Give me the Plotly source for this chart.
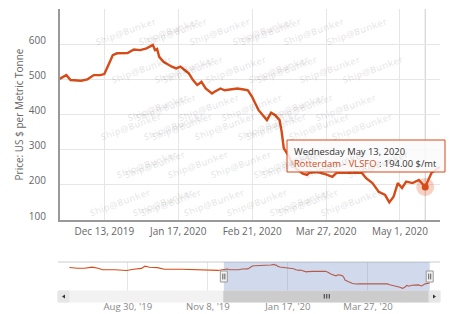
import plotly.graph_objects as go
import pandas as pd

# ---------------- data ----------------
series_name = "Rotterdam - VLSFO"
dates = [
    "2019-07-10", "2019-07-17", "2019-07-23", "2019-07-30", "2019-08-04", "2019-08-08",
    "2019-08-19", "2019-08-29", "2019-09-04", "2019-09-11", "2019-09-14", "2019-09-18",
    "2019-09-25", "2019-10-01", "2019-10-16", "2019-10-27", "2019-11-08", "2019-11-17",
    "2019-11-22", "2019-11-25", "2019-11-27", "2019-12-02", "2019-12-05", "2019-12-08",
    "2019-12-11", "2019-12-13", "2019-12-16", "2019-12-17", "2019-12-19", "2019-12-24",
    "2019-12-27", "2019-12-30", "2020-01-02", "2020-01-05", "2020-01-06", "2020-01-07",
    "2020-01-08", "2020-01-10", "2020-01-14", "2020-01-16", "2020-01-18", "2020-01-19",
    "2020-01-22", "2020-01-24", "2020-01-26", "2020-01-27", "2020-01-28", "2020-01-30",
    "2020-01-31", "2020-02-02", "2020-02-03", "2020-02-06", "2020-02-08", "2020-02-11",
    "2020-02-14", "2020-02-17", "2020-02-19", "2020-02-21", "2020-02-24", "2020-02-28",
    "2020-03-01", "2020-03-03", "2020-03-05", "2020-03-06", "2020-03-07", "2020-03-09",
    "2020-03-11", "2020-03-13", "2020-03-16", "2020-03-18", "2020-03-19", "2020-03-23",
    "2020-03-27", "2020-03-30", "2020-04-01", "2020-04-07", "2020-04-13", "2020-04-15",
    "2020-04-18", "2020-04-21", "2020-04-24", "2020-04-26", "2020-04-28", "2020-04-30",
    "2020-05-02", "2020-05-04", "2020-05-07", "2020-05-10", "2020-05-13", "2020-05-16",
    "2020-05-20",
]
prices = [
    540, 526, 528, 548, 526, 498,
    500, 485, 507, 524, 565, 545,
    538, 507, 507, 500, 500, 486,
    502, 512, 498, 496, 500, 512,
    512, 515, 555, 569, 574, 575,
    585, 583, 588, 598, 583, 586,
    564, 550, 536, 531, 536, 531,
    517, 498, 484, 488, 493, 474,
    469, 460, 464, 474, 469, 471,
    474, 471, 469, 450, 413, 384,
    405, 398, 384, 351, 304, 285,
    262, 245, 232, 228, 234, 236,
    230, 223, 234, 234, 234, 219,
    205, 180, 171, 150, 166, 205,
    191, 209, 205, 214, 194, 234,
    251,
]

main_range = ["2019-11-22", "2020-05-20"]
nav_range = ["2019-06-30", "2020-05-29"]
main_tickvals = ["2019-12-13", "2020-01-17", "2020-02-21", "2020-03-27", "2020-05-01"]
main_ticktext = ["Dec 13, 2019", "Jan 17, 2020", "Feb 21, 2020", "Mar 27, 2020", "May 1, 2020"]
nav_tickvals = ["2019-08-30", "2019-11-08", "2020-01-17", "2020-03-27"]
nav_ticktext = ["Aug 30, '19", "Nov 8, '19", "Jan 17, '20", "Mar 27, '20"]
y_tickvals = [100, 200, 300, 400, 500, 600, 700]
y_ticktext = ["100", "200", "300", "400", "500", "600", ""]
hover_date = "2020-05-13"

# ---------------- layout helpers ----------------
W, H = 455, 314
FONT = "Open Sans"
C = "#d64b18"


def px(x):
    return x / W


def py(y):
    return 1 - y / H


hi = dates.index(hover_date)
hover_ts = pd.Timestamp(hover_date)
header = hover_ts.strftime("%A %B ") + str(hover_ts.day) + hover_ts.strftime(", %Y")
body = (f"<span style='color:{C}'>{series_name}</span>"
        f"<span style='color:#333333'> : {prices[hi]:.2f} $/mt</span>")
mid_sel = pd.Timestamp(main_range[0]) + (pd.Timestamp(main_range[1]) - pd.Timestamp(main_range[0])) / 2

fig = go.Figure()
fig.add_trace(go.Scatter(x=dates, y=prices, mode="lines", line=dict(color=C, width=2.4),
                         xaxis="x", yaxis="y", hoverinfo="skip"))
fig.add_trace(go.Scatter(x=dates, y=prices, mode="lines", line=dict(color=C, width=1.1),
                         xaxis="x2", yaxis="y2", hoverinfo="skip"))
fig.add_trace(go.Scatter(x=[dates[hi]], y=[prices[hi]], mode="markers",
                         marker=dict(size=18, color="rgba(214,75,24,0.25)"),
                         xaxis="x", yaxis="y", hoverinfo="skip"))
fig.add_trace(go.Scatter(x=[dates[hi]], y=[prices[hi]], mode="markers",
                         marker=dict(size=7, color=C),
                         xaxis="x", yaxis="y", hoverinfo="skip"))

shapes = []
# crosshair
shapes.append(dict(type="line", xref="x", yref="y domain", x0=hover_date, x1=hover_date,
                   y0=0, y1=1, line=dict(color="#cccccc", width=1), layer="below"))
# navigator outline top
shapes.append(dict(type="line", xref="x2 domain", yref="y2 domain", x0=0, x1=1, y0=1, y1=1,
                   line=dict(color="#cccccc", width=1)))
# navigator mask
shapes.append(dict(type="rect", xref="x2", yref="y2 domain", x0=main_range[0], x1=main_range[1],
                   y0=0, y1=1, fillcolor="rgba(102,133,194,0.3)", line=dict(width=0), layer="above"))
# handles
for d in main_range:
    shapes.append(dict(type="rect", xref="x2", yref="y2 domain", xsizemode="pixel", xanchor=d,
                       x0=-3.5, x1=3.5, y0=0.31, y1=0.69, fillcolor="#f2f2f2",
                       line=dict(color="#999999", width=1)))
    for off in (-1, 1):
        shapes.append(dict(type="line", xref="x2", yref="y2 domain", xsizemode="pixel", xanchor=d,
                           x0=off, x1=off, y0=0.4, y1=0.6, line=dict(color="#333333", width=0.8)))
# scrollbar track
shapes.append(dict(type="rect", xref="paper", yref="paper", x0=px(58), x1=px(440),
                   y0=py(302), y1=py(291), fillcolor="#f2f2f2", line=dict(color="#f2f2f2", width=1)))
# scrollbar thumb
shapes.append(dict(type="rect", xref="x2", yref="paper", x0=main_range[0], x1=main_range[1],
                   y0=py(302), y1=py(291), fillcolor="#cccccc", line=dict(color="#cccccc", width=1)))
# grip
for off in (-2.5, 0, 2.5):
    shapes.append(dict(type="line", xref="x2", yref="paper", xsizemode="pixel", xanchor=mid_sel,
                       x0=off, x1=off, y0=py(298.5), y1=py(294), line=dict(color="#333333", width=1)))
# buttons
for (a, b) in ((58, 69), (429, 440)):
    shapes.append(dict(type="rect", xref="paper", yref="paper", x0=px(a), x1=px(b),
                       y0=py(302), y1=py(291), fillcolor="#e6e6e6", line=dict(color="#e6e6e6", width=1)))
shapes.append(dict(type="path", xref="paper", yref="paper",
                   path=f"M {px(62)} {py(296.5)} L {px(65)} {py(294.5)} L {px(65)} {py(298.5)} Z",
                   fillcolor="#333333", line=dict(width=0)))
shapes.append(dict(type="path", xref="paper", yref="paper",
                   path=f"M {px(436)} {py(296.5)} L {px(433)} {py(294.5)} L {px(433)} {py(298.5)} Z",
                   fillcolor="#333333", line=dict(width=0)))
# tooltip box
shapes.append(dict(type="rect", xref="paper", yref="paper", x0=px(287), x1=px(445),
                   y0=py(172), y1=py(140), fillcolor="rgba(250,250,250,0.86)",
                   line=dict(color=C, width=1), layer="above"))

annotations = []
# watermark
for r in range(6):
    yc = 12 + 38 * r
    phase = (322 + 16 * (r - 1)) % 43
    xc = phase
    while xc < 460:
        if xc - 24 >= 58 and xc + 24 <= 442 and yc - 9 >= 3 and yc + 9 <= 222:
            annotations.append(dict(xref="paper", yref="paper", x=px(xc), y=py(yc),
                                    text="<b>Ship@Bunker</b>", showarrow=False, textangle=-20,
                                    font=dict(family=FONT, size=9.5, color="rgba(0,0,0,0.09)")))
        xc += 43
annotations.append(dict(xref="paper", yref="paper", x=px(292), y=py(157), xanchor="left",
                        yanchor="middle", align="left", text=header + "<br>" + body,
                        showarrow=False, font=dict(family=FONT, size=9.4, color="#333333")))

fig.update_layout(
    template="none",
    width=W, height=H,
    margin=dict(l=0, r=0, t=0, b=0),
    paper_bgcolor="white", plot_bgcolor="white",
    showlegend=False, hovermode=False,
    font=dict(family=FONT, size=10, color="#666666"),
    xaxis=dict(domain=[px(60), px(440)], range=main_range, type="date",
               tickvals=main_tickvals, ticktext=main_ticktext, showgrid=True,
               gridcolor="#e6e6e6", gridwidth=1, showline=True, linecolor="#999999", linewidth=2,
               ticks="", zeroline=False, automargin=False, ticklabelstandoff=1,
               tickfont=dict(family=FONT, size=10, color="#666666"), anchor="y"),
    yaxis=dict(domain=[py(220), py(9)], range=[100, 700], tickvals=y_tickvals,
               ticktext=y_ticktext, showgrid=True, gridcolor="#e6e6e6", gridwidth=1,
               showline=True, linecolor="#999999", linewidth=2, ticks="", zeroline=False,
               automargin=False, ticklabelstandoff=10, ticklabelshift=-4,
               tickfont=dict(family=FONT, size=10, color="#666666"), anchor="x",
               title=dict(text="Price: US $ per Metric Tonne", standoff=3,
                          font=dict(family=FONT, size=10, color="#666666"))),
    xaxis2=dict(domain=[px(58), px(440)], range=nav_range, type="date",
                tickvals=nav_tickvals, ticktext=nav_ticktext, showgrid=True,
                gridcolor="#e6e6e6", showline=False, ticks="", zeroline=False,
                automargin=False, ticklabelstandoff=8,
                tickfont=dict(family=FONT, size=9.6, color="#888888"), anchor="y2"),
    yaxis2=dict(domain=[py(291), py(262)], range=[100, 644], showgrid=False,
                showticklabels=False, showline=False, ticks="", zeroline=False,
                automargin=False, anchor="x2"),
    shapes=shapes,
    annotations=annotations,
)

fig.write_html("out.html", config={"displayModeBar": False},
               post_script="document.body.style.margin='0';")
